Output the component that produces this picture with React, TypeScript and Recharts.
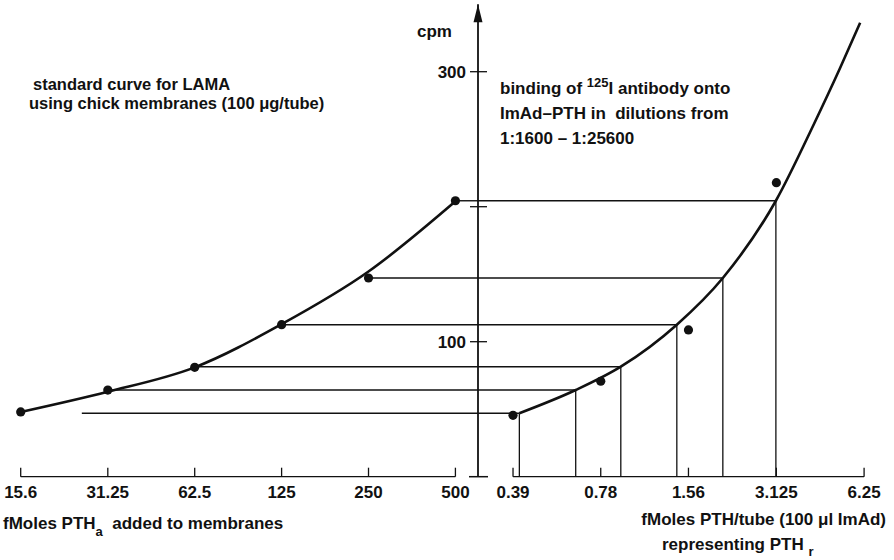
import React from 'react';
import {
    ComposedChart,
    Line,
    ReferenceDot,
    ReferenceLine,
    Scatter,
    XAxis,
    YAxis,
} from 'recharts';

// left panel: standard curve (fMoles PTH_a added to membranes)
const doseTicks = [15.6, 31.25, 62.5, 125, 250, 500];
const standardCpm = [48, 64.2, 81, 112.6, 147.2, 204.4];
const standardCurveCpm = [48, 63, 81, 113, 152, 204];

// right panel: 125I antibody binding onto ImAd-PTH
const dilutionTicks = [0.39, 0.78, 1.56, 3.125, 6.25];
const bindingCpm = [45.5, 70.7, 108.7, 217.8];
const bindingCurveX = [0.41, 0.64, 0.914, 1.423, 2.047, 3.113, 4.19, 5.17, 6.06];
const bindingCurveCpm = [47, 64.2, 81.5, 112.6, 147.2, 204.4, 260.5, 302.7, 336.3];

// read-across lines: cpm level, start on the left, end on the right curve
const readLevels = [47, 64.2, 81.5, 112.6, 147.2, 204.4];
const readFromDose = [25.4, 31.8, 62.5, 125, 250, 500];
const readToDilution = [0.41, 0.64, 0.914, 1.423, 2.047, 3.113];

const cpmTicks = [0, 100, 200, 300];
const cpmLabels = [100, 300];

// axis extents (both panels meet at the cpm axis)
const doseDomain: [number, number] = [15.6, 598.7];
const dilutionDomain: [number, number] = [0.2957, 6.32];
const cpmDomain: [number, number] = [0, 350];

const font = "'Liberation Sans', Arial, sans-serif";
const ink = '#111';

const standardPoints = doseTicks.map((x, i) => ({ x, y: standardCpm[i] }));
const standardCurve = doseTicks.map((x, i) => ({ x, y: standardCurveCpm[i] }));
const bindingPoints = dilutionTicks.slice(0, 4).map((x, i) => ({ x, y: bindingCpm[i] }));
const bindingCurve = bindingCurveX.map((x, i) => ({ x, y: bindingCurveCpm[i] }));

const dot = (p: any) => <circle cx={p.cx} cy={p.cy} r={4.6} fill={ink} />;

const XTick = (p: any) => (
    <g>
        <line x1={p.x} x2={p.x} y1={p.y} y2={p.y - 9} stroke={ink} strokeWidth={1.3} />
        <text
            x={p.x}
            y={p.y + 21.5}
            textAnchor="middle"
            fontFamily={font}
            fontWeight={700}
            fontSize={17}
            fill={ink}
        >
            {p.payload.value}
        </text>
    </g>
);

const CpmTick = (p: any) => {
    const v = p.payload.value;
    if (v === 0) {
        return <line x1={p.x - 9} x2={p.x + 10} y1={p.y} y2={p.y} stroke={ink} strokeWidth={1.5} />;
    }
    return (
        <g>
            <line x1={p.x - 8} x2={p.x + 9} y1={p.y} y2={p.y} stroke={ink} strokeWidth={1.3} />
            {cpmLabels.includes(v) && (
                <text
                    x={p.x - 12}
                    y={p.y + 6}
                    textAnchor="end"
                    fontFamily={font}
                    fontWeight={700}
                    fontSize={17}
                    fill={ink}
                >
                    {v}
                </text>
            )}
        </g>
    );
};

const arrow = (p: any) => (
    <polygon points={`${p.cx},${p.cy} ${p.cx - 4.5},${p.cy + 18} ${p.cx + 4.5},${p.cy + 18}`} fill={ink} />
);

const layer: React.CSSProperties = { position: 'absolute', left: 0, top: 0 };
const txt = { fontFamily: font, fontWeight: 700, fontSize: 17, fill: ink, style: { whiteSpace: 'pre' } } as any;

export default function App() {
    return (
        <div style={{ position: 'relative', width: 894, height: 560, background: '#fff' }}>
            <style>{'body{margin:0}'}</style>

            <div style={layer}>
                <ComposedChart
                    width={894}
                    height={560}
                    margin={{ top: 4.2, right: 416, bottom: 53.3, left: 20.7 }}
                >
                    <XAxis
                        dataKey="x"
                        type="number"
                        scale="log"
                        domain={doseDomain}
                        ticks={doseTicks}
                        interval={0}
                        height={30}
                        axisLine={false}
                        tickLine={false}
                        tickSize={0}
                        tickMargin={0}
                        tick={XTick}
                    />
                    <YAxis dataKey="y" type="number" domain={cpmDomain} hide />
                    <ReferenceLine
                        segment={[{ x: doseTicks[0], y: 0 }, { x: doseTicks[doseTicks.length - 1], y: 0 }]}
                        stroke={ink}
                        strokeWidth={1.3}
                        ifOverflow="visible"
                    />
                    {readLevels.map((lvl, i) => (
                        <ReferenceLine
                            key={i}
                            segment={[{ x: readFromDose[i], y: lvl }, { x: doseDomain[1], y: lvl }]}
                            stroke={ink}
                            strokeWidth={1.4}
                            ifOverflow="visible"
                        />
                    ))}
                    <Line
                        data={standardCurve}
                        dataKey="y"
                        type="monotone"
                        stroke={ink}
                        strokeWidth={2.6}
                        dot={false}
                        isAnimationActive={false}
                    />
                    <Scatter data={standardPoints} dataKey="y" shape={dot} isAnimationActive={false} />
                </ComposedChart>
            </div>

            <div style={layer}>
                <ComposedChart
                    width={894}
                    height={560}
                    margin={{ top: 4.2, right: 28.5, bottom: 53.3, left: 418 }}
                >
                    <XAxis
                        dataKey="x"
                        type="number"
                        scale="log"
                        domain={dilutionDomain}
                        ticks={dilutionTicks}
                        interval={0}
                        height={30}
                        axisLine={false}
                        tickLine={false}
                        tickSize={0}
                        tickMargin={0}
                        tick={XTick}
                    />
                    <YAxis
                        dataKey="y"
                        type="number"
                        domain={cpmDomain}
                        ticks={cpmTicks}
                        interval={0}
                        width={60}
                        axisLine={{ stroke: ink, strokeWidth: 1.8 }}
                        tickLine={false}
                        tickSize={0}
                        tickMargin={0}
                        tick={CpmTick}
                    />
                    <ReferenceDot x={dilutionDomain[0]} y={cpmDomain[1]} shape={arrow} ifOverflow="visible" />
                    <ReferenceLine
                        segment={[{ x: dilutionTicks[0], y: 0 }, { x: dilutionTicks[dilutionTicks.length - 1], y: 0 }]}
                        stroke={ink}
                        strokeWidth={1.3}
                        ifOverflow="visible"
                    />
                    {readLevels.map((lvl, i) => (
                        <ReferenceLine
                            key={'h' + i}
                            segment={[{ x: dilutionDomain[0], y: lvl }, { x: readToDilution[i], y: lvl }]}
                            stroke={ink}
                            strokeWidth={1.4}
                            ifOverflow="visible"
                        />
                    ))}
                    {readLevels.map((lvl, i) => (
                        <ReferenceLine
                            key={'v' + i}
                            segment={[{ x: readToDilution[i], y: 0 }, { x: readToDilution[i], y: lvl }]}
                            stroke={ink}
                            strokeWidth={1.3}
                            ifOverflow="visible"
                        />
                    ))}
                    <Line
                        data={bindingCurve}
                        dataKey="y"
                        type="monotone"
                        stroke={ink}
                        strokeWidth={2.6}
                        dot={false}
                        isAnimationActive={false}
                    />
                    <Scatter data={bindingPoints} dataKey="y" shape={dot} isAnimationActive={false} />
                </ComposedChart>
            </div>

            <svg width={894} height={560} style={{ ...layer, pointerEvents: 'none' }}>
                <text {...txt} x={452} y={37} textAnchor="end">cpm</text>

                <text {...txt} fontSize={16.5} x={33} y={90}>standard curve for LAMA</text>
                <text {...txt} fontSize={16.5} x={29} y={109}>using chick membranes (100 μg/tube)</text>

                <text {...txt} x={500} y={94}>
                    binding of <tspan fontSize={13} dy={-7}>125</tspan>
                    <tspan dy={7}>I antibody onto</tspan>
                </text>
                <text {...txt} x={500} y={119}>ImAd–PTH in  dilutions from</text>
                <text {...txt} x={500} y={144}>1:1600 – 1:25600</text>

                <text {...txt} x={3} y={529}>
                    fMoles PTH<tspan fontSize={13} dy={7}>a</tspan>
                    <tspan dy={-7}>  added to membranes</tspan>
                </text>
                <text {...txt} x={886} y={525} textAnchor="end">fMoles PTH/tube (100 μl ImAd)</text>
                <text {...txt} x={662} y={550}>
                    representing PTH <tspan fontSize={13} dy={6}>r</tspan>
                </text>
            </svg>
        </div>
    );
}
